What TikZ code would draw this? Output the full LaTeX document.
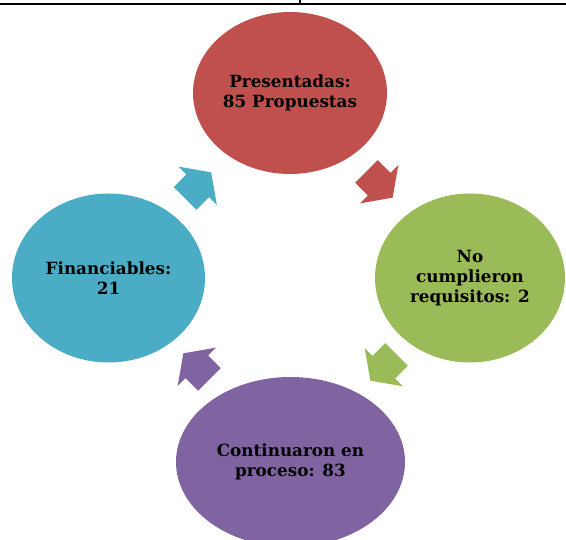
\documentclass[tikz,border=0pt]{standalone}
\usepackage{fontspec}
\setmainfont{DejaVu Serif}
\usetikzlibrary{shapes.geometric}
\definecolor{redc}{HTML}{C0504D}
\definecolor{greenc}{HTML}{9BBB59}
\definecolor{purplec}{HTML}{8064A2}
\definecolor{bluec}{HTML}{4BACC6}
\tikzset{
  bubble/.style={ellipse, inner sep=0pt, align=center, text=black,
    font=\bfseries\fontsize{16.8}{20}\selectfont},
  pics/blockarrow/.style={code={
    \fill[#1] (0,-16)--(18,-16)--(18,-27)--(37,0)--(18,27)--(18,16)--(0,16)--cycle;}}
}
\begin{document}
\begin{tikzpicture}[x=1pt,y=-1pt]
\clip (0,0) rectangle (566,540);
\useasboundingbox (0,0) rectangle (566,540);
\fill[white] (0,0) rectangle (566,540);
% top rule
\draw[line width=1.8pt] (0,4.2) -- (566,4.2);
\draw[line width=2pt] (300,0) -- (300,4.2);
% bubbles
\node[bubble, fill=redc, minimum width=194pt, minimum height=162pt] (pres) at (290,93)
  {Presentadas:\\85 Propuestas};
\node[bubble, fill=greenc, minimum width=190pt, minimum height=169pt] (nocump) at (470,278)
  {No\\cumplieron\\requisitos: 2};
\node[bubble, fill=purplec, minimum width=229pt, minimum height=170pt] (cont) at (290.5,462)
  {Continuaron en\\proceso: 83};
\node[bubble, fill=bluec, minimum width=193pt, minimum height=169pt] (fin) at (108.5,278)
  {Financiables:\\21};
% cycle arrows
\coordinate (a1) at (366.5,171.5);
\coordinate (a2) at (396.5,354.5);
\coordinate (a3) at (209.5,379.5);
\coordinate (a4) at (185,198.5);
\pic[rotate=-45] at (a1) {blockarrow=redc};
\pic[rotate=-135] at (a2) {blockarrow=greenc};
\pic[rotate=135] at (a3) {blockarrow=purplec};
\pic[rotate=45] at (a4) {blockarrow=bluec};
\end{tikzpicture}
\end{document}
